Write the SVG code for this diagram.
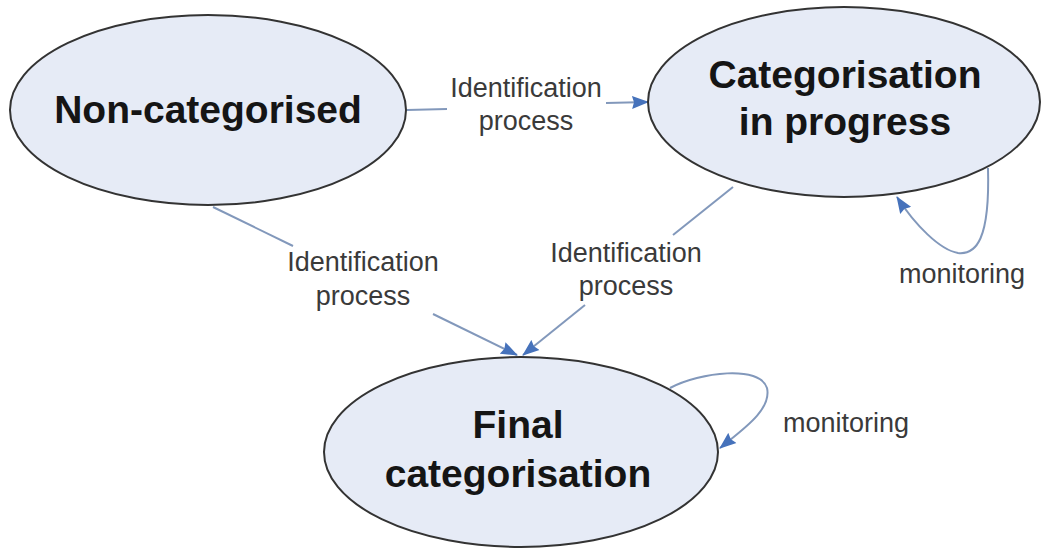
<svg xmlns="http://www.w3.org/2000/svg" width="1044" height="548" viewBox="0 0 1044 548">
<defs>
<style>
.node{fill:#e6ebf6;stroke:#333333;stroke-width:2}
.title{font-family:"Liberation Sans",Arial,sans-serif;font-weight:bold;font-size:39px;fill:#151515;text-anchor:middle}
.lbl{font-family:"Liberation Sans",Arial,sans-serif;font-size:27px;fill:#3a3a3a;text-anchor:middle}
.edge{fill:none;stroke:#8298bb;stroke-width:2}
</style>
<marker id="arr" markerUnits="userSpaceOnUse" markerWidth="17" markerHeight="14" refX="16" refY="7" orient="auto">
<path d="M0,0.5 L17,7 L0,13.5 L2,7 Z" fill="#4672bb"/>
</marker>
</defs>
<rect width="1044" height="548" fill="#ffffff"/>
<g id="connectors">
<path class="edge" d="M407,110 L447,109"/>
<path class="edge" d="M606,103 L648,102" marker-end="url(#arr)"/>
<path class="edge" d="M213,207 L293,246"/>
<path class="edge" d="M433,314 L517,355" marker-end="url(#arr)"/>
<path class="edge" d="M733,187 L673,235"/>
<path class="edge" d="M585,305 L523,355" marker-end="url(#arr)"/>
<path class="edge" d="M988,168 C990,240 976,255 958,253 C940,250 915,225 897,197" marker-end="url(#arr)"/>
<path class="edge" d="M670,388 C700,372 760,365 767,388 C772,410 742,430 720,448" marker-end="url(#arr)"/>
<text class="lbl" x="526" y="97">Identification</text>
<text class="lbl" x="526" y="130">process</text>
<text class="lbl" x="363" y="271">Identification</text>
<text class="lbl" x="363" y="305">process</text>
<text class="lbl" x="626" y="262">Identification</text>
<text class="lbl" x="626" y="295">process</text>
<text class="lbl" x="962" y="283">monitoring</text>
<text class="lbl" x="846" y="432">monitoring</text>
</g>
<g id="node-noncat">
<ellipse class="node" cx="208" cy="110" rx="198" ry="95"/>
<text class="title" x="208" y="123">Non-categorised</text>
</g>
<g id="node-inprogress">
<ellipse class="node" cx="844" cy="102" rx="196" ry="95"/>
<text class="title" x="845" y="88">Categorisation</text>
<text class="title" x="845" y="135">in progress</text>
</g>
<g id="node-final">
<ellipse class="node" cx="521" cy="452" rx="197" ry="95"/>
<text class="title" x="518" y="438">Final</text>
<text class="title" x="518" y="487">categorisation</text>
</g>
</svg>
